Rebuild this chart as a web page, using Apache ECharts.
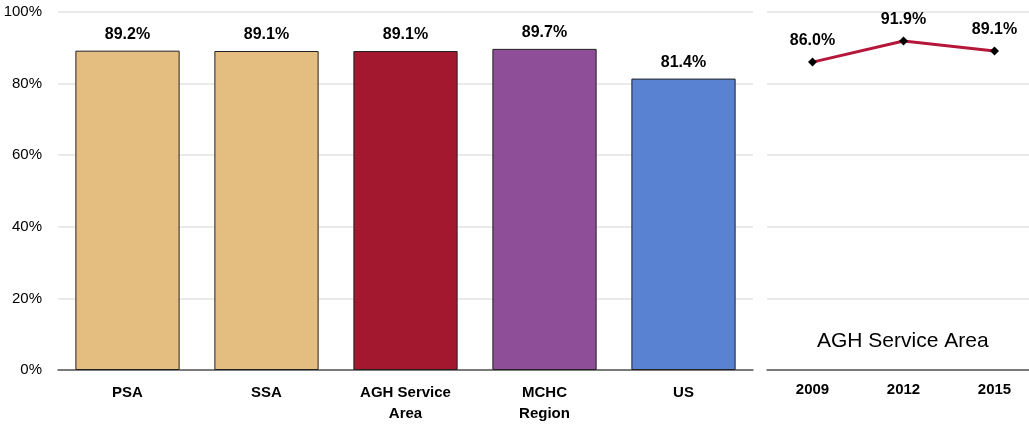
<!DOCTYPE html>
<html>
<head>
<meta charset="utf-8">
<script src="https://cdn.jsdelivr.net/npm/echarts@6/dist/echarts.min.js"></script>
<style>
  html, body { margin: 0; padding: 0; background: #fff; }
  #main { width: 1029px; height: 427px; }
</style>
</head>
<body>
<div id="main"></div>
<script>
// bar panel
const categories = ['PSA', 'SSA', 'AGH Service\nArea', 'MCHC\nRegion', 'US'];
const values = [89.2, 89.1, 89.1, 89.7, 81.4];
const barColors = ['#E4BD80', '#E4BD80', '#A3182F', '#8E4F98', '#5A82D2'];

// trend panel
const years = ['2009', '2012', '2015'];
const trend = [86.0, 91.9, 89.1];

const font = "'Liberation Sans Narrow', 'Liberation Sans', Arial, sans-serif";

const chart = echarts.init(document.getElementById('main'));

const option = {
  animation: false,
  textStyle: { fontFamily: font },
  grid: [
    { left: 58, right: 276, top: 12, bottom: 57, outerBoundsMode: 'none' },
    // right panel runs past the canvas edge, like the original
    { left: 767, right: -11, top: 12, bottom: 57, outerBoundsMode: 'none' }
  ],
  xAxis: [
    {
      type: 'category',
      gridIndex: 0,
      data: categories,
      axisLine: { lineStyle: { color: '#555', width: 1.5 } },
      axisTick: { show: false },
      axisLabel: { color: '#000', fontWeight: 'bold', fontSize: 15, fontFamily: font, margin: 12, lineHeight: 21 }
    },
    {
      type: 'category',
      gridIndex: 1,
      data: years,
      axisLine: { lineStyle: { color: '#555', width: 1.5 } },
      axisTick: { show: false },
      axisLabel: { color: '#000', fontWeight: 'bold', fontSize: 15, fontFamily: font, margin: 12 }
    }
  ],
  yAxis: [
    {
      type: 'value',
      gridIndex: 0,
      min: 0,
      max: 100,
      interval: 20,
      axisLine: { show: false },
      axisTick: { show: false },
      axisLabel: { formatter: '{value}%', color: '#000', fontSize: 15, fontFamily: font, margin: 16 },
      splitLine: { lineStyle: { color: '#e3e3e3', width: 1.5 } }
    },
    {
      type: 'value',
      gridIndex: 1,
      min: 0,
      max: 100,
      interval: 20,
      axisLine: { show: false },
      axisTick: { show: false },
      axisLabel: { show: false },
      splitLine: { lineStyle: { color: '#e3e3e3', width: 1.5 } }
    }
  ],
  series: [
    {
      type: 'bar',
      xAxisIndex: 0,
      yAxisIndex: 0,
      barWidth: '75%',
      data: values.map((v, i) => ({
        value: v,
        itemStyle: { color: barColors[i], borderColor: '#222', borderWidth: 1 }
      })),
      label: {
        show: true,
        position: 'top',
        distance: 8,
        formatter: (p) => p.value.toFixed(1) + '%',
        color: '#000',
        fontWeight: 'bold',
        fontSize: 16,
        fontFamily: font
      }
    },
    {
      type: 'line',
      xAxisIndex: 1,
      yAxisIndex: 1,
      data: trend,
      symbol: 'diamond',
      symbolSize: 9,
      itemStyle: { color: '#000' },
      lineStyle: { color: '#B5173A', width: 3 },
      label: {
        show: true,
        position: 'top',
        distance: 9,
        formatter: (p) => p.value.toFixed(1) + '%',
        color: '#000',
        fontWeight: 'bold',
        fontSize: 16,
        fontFamily: font
      }
    }
  ],
  graphic: [
    {
      type: 'text',
      left: 817,
      top: 331,
      style: { text: 'AGH Service Area', fill: '#000', fontSize: 21, fontFamily: font }
    }
  ]
};

chart.setOption(option);
</script>
</body>
</html>
